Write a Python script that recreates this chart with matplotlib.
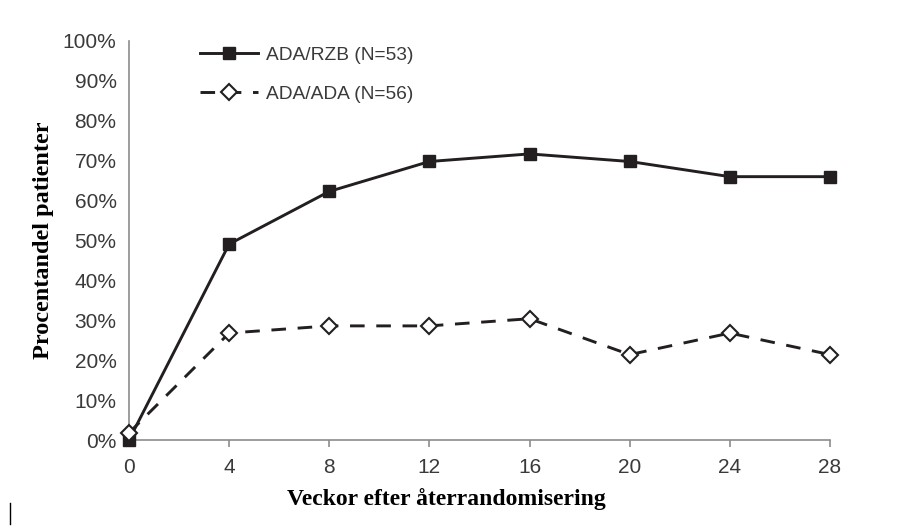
import matplotlib
matplotlib.use("Agg")
from matplotlib import pyplot as plt
from matplotlib.lines import Line2D
from matplotlib.ticker import PercentFormatter

weeks = [0, 4, 8, 12, 16, 20, 24, 28]
rzb = [0.0, 49.1, 62.3, 69.8, 71.7, 69.8, 66.0, 66.0]
ada = [1.8, 26.8, 28.6, 28.6, 30.4, 21.4, 26.8, 21.4]
labels = ['ADA/RZB (N=53)', 'ADA/ADA (N=56)']
x_ticks = [0, 4, 8, 12, 16, 20, 24, 28]
y_ticks = [0, 10, 20, 30, 40, 50, 60, 70, 80, 90, 100]

ink = '#231f20'
axis_col = '#8c8c8c'
tick_col = '#3a3a3a'

fig = plt.figure(figsize=(9.15, 5.28), dpi=100)
ax = fig.add_axes([129 / 915, 1 - 440 / 528, 701 / 915, 399 / 528])

ax.plot(weeks, rzb, color=ink, lw=2.1, marker='s', ms=9,
        mfc=ink, mec=ink, clip_on=False, zorder=3, label=labels[0])
ax.plot(weeks, ada, color=ink, lw=2.1, ls=(0, (5, 4)), marker='D', ms=8.5,
        mfc='white', mec=ink, mew=1.5, clip_on=False, zorder=4, label=labels[1])

ax.set_xlim(0, 28)
ax.set_ylim(0, 100)
ax.set_xticks(x_ticks)
ax.set_yticks(y_ticks)
ax.yaxis.set_major_formatter(PercentFormatter(decimals=0))

for s in ['top', 'right']:
    ax.spines[s].set_visible(False)
for s in ['left', 'bottom']:
    ax.spines[s].set_color(axis_col)
    ax.spines[s].set_linewidth(1.2)

ax.tick_params(axis='y', length=0, pad=9, labelsize=15, labelcolor=tick_col)
ax.tick_params(axis='x', length=5, width=1.2, color=axis_col, pad=8,
               labelsize=15, labelcolor=tick_col)
for t in ax.get_xticklabels() + ax.get_yticklabels():
    t.set_fontfamily('Liberation Sans')

ax.set_xlabel('Veckor efter återrandomisering', fontfamily='Liberation Serif',
              fontweight='bold', fontsize=17, labelpad=8)
ax.xaxis.set_label_coords(0.453, -0.12)
ax.set_ylabel('Procentandel patienter', fontfamily='Liberation Serif',
              fontweight='bold', fontsize=17.5, labelpad=6)

leg = ax.legend(loc='upper left', bbox_to_anchor=(0.077, 1.03), frameon=False,
                handlelength=3.0, handletextpad=0.45, labelspacing=1.15,
                prop={'family': 'Liberation Sans', 'size': 13.8})
for t in leg.get_texts():
    t.set_color(tick_col)

# small stray mark at bottom-left of the original image
fig.add_artist(Line2D([10 / 915, 10 / 915], [1 - 503 / 528, 1 - 524 / 528],
                      color='black', lw=1))

fig.savefig('out.png', dpi=100)
